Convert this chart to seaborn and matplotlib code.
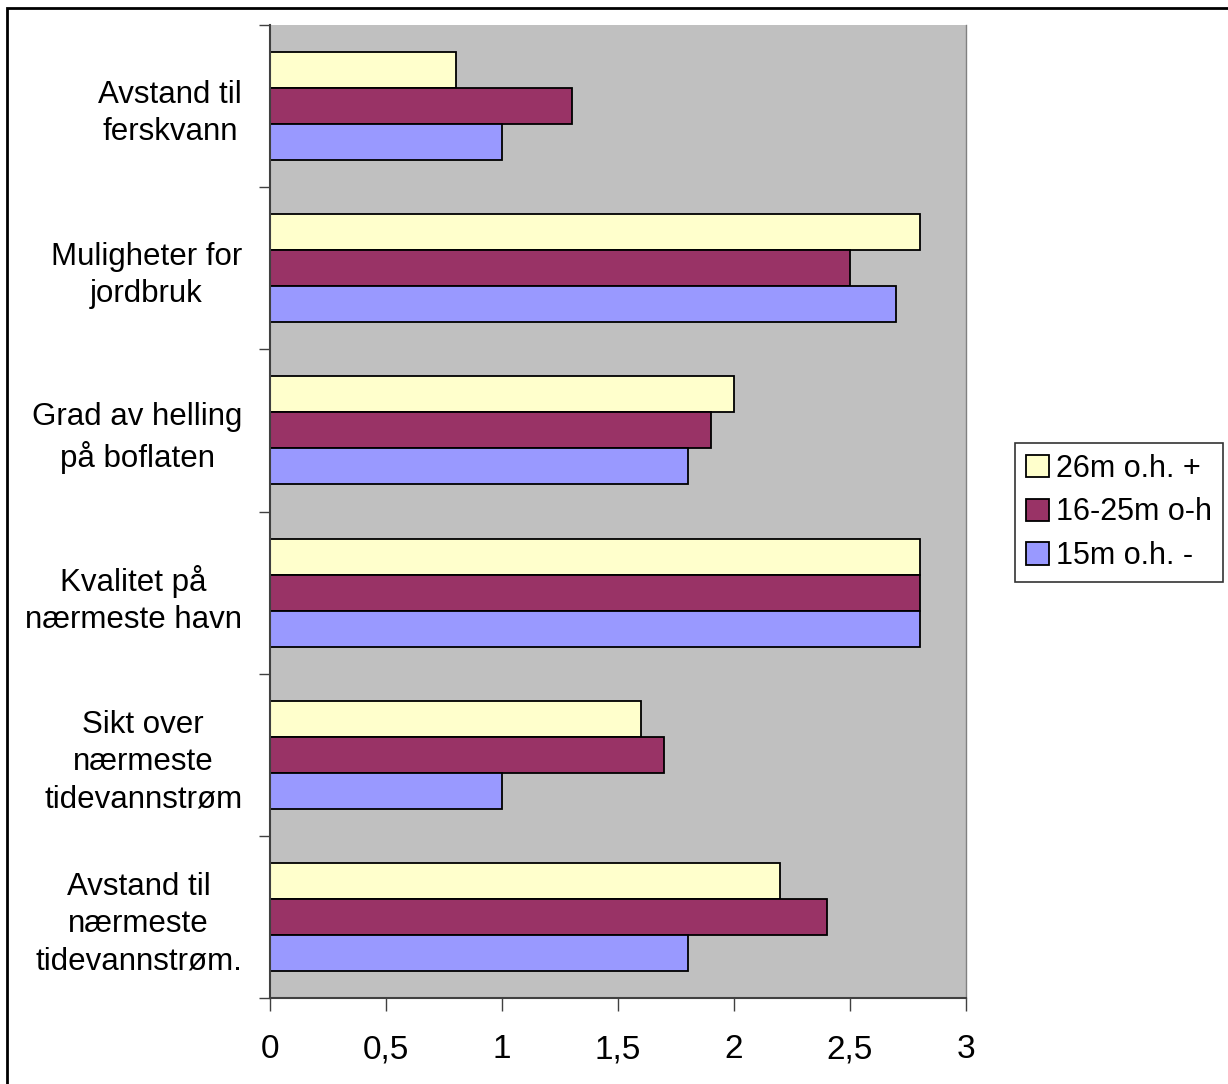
import matplotlib
matplotlib.use("Agg")
import matplotlib.pyplot as plt
import seaborn as sns
import pandas as pd
from matplotlib.patches import Rectangle
from matplotlib.ticker import FixedLocator

categories = [
    "Avstand til\nferskvann",
    "Muligheter for\njordbruk",
    "Grad av helling\npå boflaten",
    "Kvalitet på\nnærmeste havn",
    "Sikt over\nnærmeste\ntidevannstrøm",
    "Avstand til\nnærmeste\ntidevannstrøm.",
]
series_names = ["26m o.h. +", "16-25m o-h", "15m o.h. -"]
values_26 = [0.8, 2.8, 2.0, 2.8, 1.6, 2.2]
values_16 = [1.3, 2.5, 1.9, 2.8, 1.7, 2.4]
values_15 = [1.0, 2.7, 1.8, 2.8, 1.0, 1.8]
colors = ["#FFFFCC", "#993366", "#9999FF"]
x_ticks = [0, 0.5, 1, 1.5, 2, 2.5, 3]
x_tick_labels = ["0", "0,5", "1", "1,5", "2", "2,5", "3"]

rows = []
for name, vals in zip(series_names, [values_26, values_16, values_15]):
    for cat, v in zip(categories, vals):
        rows.append({"kategori": cat, "gruppe": name, "verdi": v})
df = pd.DataFrame(rows)

sns.set_style("white")
plt.rcParams["font.family"] = ["Liberation Sans", "DejaVu Sans"]
plt.rcParams["text.color"] = "black"
plt.rcParams["xtick.color"] = "black"
plt.rcParams["ytick.color"] = "black"

fig = plt.figure(figsize=(12.28, 10.84), dpi=100)
ax = fig.add_axes([270 / 1228, 1 - 998 / 1084, (966 - 270) / 1228, (998 - 25) / 1084])
ax.set_facecolor("#C0C0C0")

sns.barplot(
    data=df, y="kategori", x="verdi", hue="gruppe",
    order=categories, hue_order=series_names,
    palette=colors, orient="h", width=0.667,
    edgecolor="black", linewidth=1.3, saturation=1, ax=ax,
)

ax.set_xlim(0, 3)
ax.set_ylim(5.5, -0.5)
ax.set_xticks(x_ticks)
ax.set_xticklabels(x_tick_labels, fontsize=24)
ax.set_xlabel("")
ax.set_ylabel("")
ax.tick_params(axis="x", length=9, width=1, color="#404040", pad=17,
               direction="out", bottom=True, labelcolor="black")
ax.tick_params(axis="y", which="major", length=0, pad=20, labelsize=22.5,
               labelcolor="black")
ax.yaxis.set_minor_locator(FixedLocator([i - 0.5 for i in range(len(categories) + 1)]))
ax.tick_params(axis="y", which="minor", length=8, width=1, color="#404040",
               direction="out", left=True)
for lab in ax.get_yticklabels():
    lab.set_multialignment("center")
    lab.set_linespacing(1.32)

for side in ["left", "bottom"]:
    ax.spines[side].set_color("#404040")
    ax.spines[side].set_linewidth(1.5)
ax.spines["right"].set_color("#808080")
ax.spines["right"].set_linewidth(1)
ax.spines["top"].set_visible(False)

handles, labels = ax.get_legend_handles_labels()
ax.legend_.remove()
leg = fig.legend(
    handles, labels, loc="upper left",
    bbox_to_anchor=(1015 / 1228, 1 - 443 / 1084),
    fontsize=22, frameon=True, fancybox=False, edgecolor="black",
    handlelength=0.75, handleheight=0.75, handletextpad=0.25,
    labelspacing=0.45, borderpad=0.35, borderaxespad=0,
    labelcolor="black",
)
leg.get_frame().set_linewidth(1.2)

fig.patches.append(Rectangle((7 / 1228, -0.1), 1.2, 1 - 8 / 1084 + 0.1,
                             transform=fig.transFigure, fill=False,
                             edgecolor="black", linewidth=2))

fig.savefig("out.png", dpi=100, facecolor="white")
